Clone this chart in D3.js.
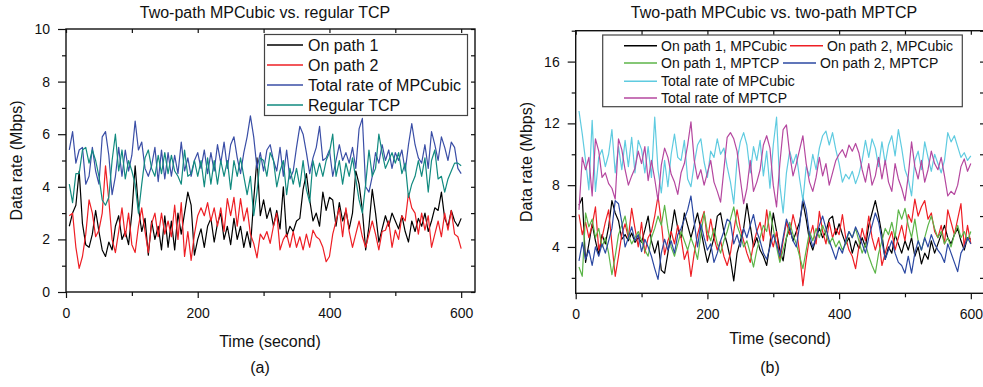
<!DOCTYPE html>
<html>
<head>
<meta charset="utf-8">
<script src="https://cdn.jsdelivr.net/npm/d3@7"></script>
<style>
  body { margin: 0; background: #fff; }
  svg { font-family: Arial, "Liberation Sans", sans-serif; }
</style>
</head>
<body>
<div id="chart"></div>
<script>
// sample times (seconds), one sample every 5 s
const times = d3.range(5, 601, 5)

// ---- panel (a): two-path MPCubic vs. regular TCP ----
const aPath1 = [
  2.5, 3.0, 3.3, 4.6, 2.6, 1.8, 1.7, 2.2, 3.1, 2.3,
  1.6, 1.35, 1.9, 1.6, 2.5, 2.9, 2.0, 2.3, 1.8, 3.0,
  4.8, 3.2, 2.3, 2.8, 1.4, 2.7, 2.0, 2.5, 1.6, 2.9,
  1.7, 2.7, 1.6, 3.0, 2.2, 3.0, 3.8, 3.3, 1.4, 2.0,
  2.4, 1.7, 2.5, 2.8, 1.9, 2.6, 3.0, 2.0, 2.5, 1.8,
  2.8, 2.0, 2.5, 1.7, 2.3, 1.7, 3.5, 5.1, 2.9, 3.5,
  2.8, 3.2, 2.5, 3.1, 2.4, 4.0, 2.1, 2.5, 2.3, 2.7,
  2.8, 3.9, 4.5, 3.5, 2.7, 3.0, 2.5, 3.8, 3.1, 3.6,
  3.5, 2.5, 3.4, 2.7, 3.1, 2.4, 3.0, 4.6, 4.1, 3.1,
  1.6, 2.5, 3.9, 3.0, 1.9, 2.4, 2.9, 2.5, 3.0, 2.7,
  2.4, 2.9, 2.3, 1.9, 2.7, 2.3, 2.8, 2.5, 3.0, 2.3,
  2.7, 3.2, 3.1, 3.8, 2.8, 2.5, 3.1, 2.7, 2.5, 2.8
]
const aPath2 = [
  2.9, 3.0, 1.7, 0.9, 1.35, 2.2, 3.5, 3.0, 2.1, 2.35,
  3.0, 4.8, 3.5, 2.0, 1.5, 2.3, 3.2, 2.1, 3.0, 1.8,
  1.5, 2.5, 3.2, 2.3, 1.5, 2.6, 3.0, 2.1, 3.0, 2.2,
  2.7, 2.1, 3.3, 2.0, 3.4, 1.35, 2.3, 1.2, 2.2, 2.9,
  3.2, 2.9, 3.4, 2.7, 3.2, 2.5, 3.2, 2.3, 3.55, 2.9,
  3.6, 2.5, 3.55, 2.7, 3.2, 2.2, 1.85, 1.3, 2.2, 2.0,
  2.3, 1.85, 2.5, 3.0, 1.6, 2.0, 2.2, 1.7, 2.3, 1.7,
  2.1, 1.6, 2.2, 1.7, 2.35, 2.1, 2.0, 1.7, 1.15, 1.35,
  2.2, 2.7, 3.2, 2.1, 3.2, 2.3, 1.7, 2.2, 2.7, 2.1,
  1.7, 2.2, 2.7, 2.2, 1.6, 2.3, 2.35, 2.7, 1.7, 2.35,
  2.0, 2.9, 2.7, 3.75, 3.2, 3.0, 2.2, 3.0, 2.35, 2.9,
  1.7, 2.2, 2.7, 2.1, 3.0, 2.35, 3.1, 2.2, 2.1, 1.65
]
const aTotal = [
  5.4, 6.1, 4.9, 5.4, 5.5, 4.1, 4.4, 5.5, 4.6, 4.1,
  5.9, 6.1, 5.2, 3.7, 4.4, 5.5, 4.4, 5.4, 4.6, 5.2,
  6.5, 5.4, 5.7, 4.7, 4.4, 4.8, 5.5, 4.2, 5.4, 4.3,
  5.3, 4.4, 5.2, 4.5, 5.7, 4.6, 5.1, 4.4, 5.0, 5.3,
  4.7, 5.4, 4.5, 5.3, 4.6, 5.6, 4.9, 5.7, 4.7, 5.6,
  5.9, 5.1, 4.5, 5.3, 5.9, 6.7, 5.9, 4.7, 5.3, 4.6,
  5.4, 5.6, 5.0, 4.6, 5.5, 4.4, 5.4, 4.3, 4.6, 5.5,
  6.3, 6.0, 5.3, 4.5, 5.1, 5.5, 6.3, 5.0, 5.1, 5.4,
  4.4, 5.0, 5.6, 5.0, 5.3, 4.9, 5.5, 4.7, 6.2, 6.6,
  4.0, 3.8, 4.4, 5.3, 4.9, 5.6, 5.0, 5.4, 4.7, 5.3,
  5.0, 5.4, 4.6, 5.6, 6.4, 5.6, 5.1, 4.9, 5.6, 4.7,
  6.1, 5.6, 5.0, 5.9, 5.5, 5.0, 5.7, 5.5, 4.7, 4.5
]
const aTcp = [
  4.1, 3.4, 4.5, 4.5, 5.4, 5.5, 4.9, 5.4, 5.0, 4.4,
  3.5, 3.3, 3.6, 5.0, 6.0, 4.6, 5.4, 4.3, 5.0, 4.6,
  4.1, 3.0, 4.1, 5.1, 5.4, 4.7, 4.4, 5.2, 4.5, 5.3,
  4.5, 5.2, 4.6, 4.4, 4.1, 5.4, 4.4, 4.5, 5.0, 4.4,
  5.0, 4.0, 5.1, 4.1, 5.0, 4.1, 5.0, 4.4, 5.0, 3.9,
  5.0, 4.4, 5.1, 4.4, 3.7, 4.4, 2.9, 3.8, 5.1, 5.0,
  4.4, 5.3, 5.0, 4.0, 4.6, 5.0, 3.7, 4.7, 4.1, 4.7,
  4.0, 5.0, 3.9, 3.4, 5.0, 4.4, 4.9, 4.4, 5.0, 5.3,
  6.0, 4.4, 5.0, 4.1, 4.9, 4.4, 5.1, 4.3, 3.5, 3.0,
  4.1, 5.4, 4.4, 4.7, 6.0, 5.3, 4.7, 5.0, 5.3, 4.9,
  5.3, 4.5, 4.9, 3.6, 4.1, 4.4, 5.0, 4.4, 5.1, 3.8,
  5.0, 5.4, 4.3, 4.4, 3.8, 4.3, 4.6, 4.9, 4.9, 4.8
]

// ---- panel (b): two-path MPCubic vs. two-path MPTCP ----
const bPath1Cubic = [
  6.7, 7.2, 3.0, 4.2, 5.5, 4.4, 3.5, 4.8, 4.2, 5.3,
  7.0, 6.2, 5.7, 4.5, 4.8, 4.4, 4.9, 4.3, 4.6, 4.3,
  5.1, 6.0, 4.4, 3.6, 4.4, 2.5, 2.3, 3.6, 5.0, 6.4,
  5.2, 4.6, 6.2, 5.4, 4.6, 5.4, 6.2, 5.1, 4.0, 3.0,
  3.8, 4.6, 6.0, 6.2, 5.0, 4.2, 3.2, 1.8, 3.6, 4.4,
  5.2, 6.8, 5.4, 4.0, 4.6, 3.8, 3.4, 2.8, 4.2, 6.2,
  5.0, 3.8, 3.1, 4.6, 5.2, 4.4, 5.0, 5.6, 6.9, 5.8,
  4.4, 3.8, 4.6, 5.2, 4.6, 5.0, 5.8, 6.0, 4.8, 5.5,
  4.8, 4.2, 4.6, 3.6, 4.4, 3.9, 4.6, 4.0, 5.4, 6.2,
  7.0, 6.0, 4.8, 3.2, 4.0, 3.6, 4.8, 4.2, 3.6, 4.4,
  3.8, 4.6, 3.4, 4.0, 2.9, 3.6, 3.2, 4.4, 3.6, 4.2,
  4.8, 5.4, 4.6, 4.2, 4.8, 5.2, 4.4, 3.8, 4.6, 4.5
]
const bPath2Cubic = [
  6.1, 4.8, 5.6, 4.6, 5.4, 6.6, 3.8, 4.6, 5.6, 6.4,
  4.2, 2.1, 3.4, 4.8, 5.5, 4.6, 6.5, 5.2, 4.0, 5.6,
  3.6, 4.6, 5.0, 6.0, 7.3, 5.6, 3.5, 4.4, 5.0, 4.2,
  5.4, 4.6, 3.2, 3.8, 2.1, 3.6, 4.8, 5.6, 6.3, 4.4,
  5.8, 4.6, 3.8, 4.4, 3.4, 2.8, 3.6, 5.0, 6.4, 5.2,
  4.4, 3.6, 3.0, 4.2, 5.0, 5.6, 4.4, 6.4, 4.8, 4.0,
  5.0, 3.1, 4.4, 5.6, 4.8, 6.1, 5.2, 3.6, 1.5, 3.2,
  4.6, 5.4, 4.2, 6.3, 5.0, 4.2, 5.6, 4.6, 5.2, 4.8,
  6.1, 4.6, 3.8, 3.4, 2.6, 4.0, 5.2, 4.4, 6.0, 4.6,
  3.8, 4.6, 2.8, 3.6, 4.4, 5.0, 3.8, 4.6, 5.4, 4.4,
  6.1, 5.6, 7.1, 6.0, 6.6, 7.0, 5.8, 6.2, 5.0, 4.6,
  5.4, 4.2, 6.4, 5.6, 4.8, 5.8, 6.8, 4.0, 5.4, 4.2
]
const bPath1Mptcp = [
  2.7, 2.1, 6.2, 5.3, 5.8, 4.6, 5.2, 4.0, 4.6, 3.6,
  2.2, 3.4, 4.8, 5.4, 6.0, 4.8, 4.2, 4.6, 5.0, 4.4,
  3.8, 3.4, 4.6, 5.2, 6.0, 5.4, 6.7, 5.2, 4.0, 3.4,
  4.2, 5.0, 4.4, 3.8, 4.6, 4.0, 3.2, 4.8, 6.2, 5.0,
  4.4, 5.2, 4.2, 3.6, 4.4, 5.0, 5.8, 6.6, 5.4, 4.8,
  4.0, 4.4, 3.6, 2.7, 3.8, 4.6, 5.4, 5.0, 6.3, 5.2,
  4.0, 3.0, 3.8, 4.6, 5.6, 4.8, 4.2, 3.4, 2.6, 3.8,
  5.0, 4.4, 5.2, 4.6, 5.4, 4.8, 4.2, 4.6, 4.0, 4.4,
  3.8, 4.2, 5.0, 4.6, 5.2, 4.4, 3.6, 4.2, 3.4, 2.8,
  2.3, 3.6, 4.4, 5.2, 4.8, 5.6, 4.6, 6.4, 5.8, 6.5,
  5.4, 4.6, 5.8, 4.4, 3.8, 4.6, 5.4, 6.0, 5.2, 4.6,
  5.0, 4.2, 4.6, 4.0, 4.8, 5.4, 4.6, 5.0, 4.4, 5.0
]
const bPath2Mptcp = [
  3.1, 4.3, 3.2, 3.8, 2.8, 4.0, 3.4, 4.2, 3.6, 4.4,
  5.2, 7.0, 6.8, 5.6, 4.0, 4.6, 5.3, 4.4, 4.8, 3.7,
  4.5, 4.0, 3.4, 2.6, 1.9, 3.6, 4.5, 3.8, 4.4, 3.6,
  4.8, 5.2, 5.8, 6.4, 7.3, 5.6, 4.0, 5.5, 4.6, 3.8,
  4.2, 3.0, 3.6, 4.4, 5.0, 5.8, 5.6, 4.2, 4.8, 4.0,
  5.2, 4.6, 5.4, 6.1, 5.0, 4.4, 3.6, 3.2, 4.0, 4.8,
  4.2, 3.4, 4.6, 5.8, 5.2, 4.4, 4.0, 5.4, 7.2, 6.4,
  4.8, 4.0, 4.6, 5.4, 6.0, 5.2, 4.4, 3.8, 3.2, 4.0,
  3.6, 4.4, 5.0, 4.6, 5.3, 4.8, 4.2, 3.6, 4.6, 5.4,
  6.2, 5.6, 4.4, 3.2, 3.8, 4.4, 3.6, 3.0, 2.8, 2.3,
  3.4, 2.3, 3.6, 4.4, 3.8, 4.6, 4.0, 4.8, 4.2, 3.8,
  3.5, 3.0, 4.2, 3.6, 3.0, 2.4, 3.6, 4.0, 4.6, 4.2
]
const bTotalCubic = [
  12.8, 11.3, 9.6, 7.7, 12.2, 7.6, 9.8, 10.3, 9.2, 10.0,
  11.6, 8.8, 10.5, 9.0, 10.9, 9.2, 11.1, 8.8, 10.9, 10.3,
  8.8, 10.5, 8.5, 12.4, 9.0, 7.5, 9.6, 7.9, 10.0, 11.3,
  9.8, 9.6, 10.9, 8.4, 7.9, 9.4, 10.6, 11.0, 9.5, 8.5,
  10.2, 9.8, 11.0, 10.0, 10.4, 9.2, 8.2, 6.8, 9.6, 10.8,
  11.4, 10.6, 8.8, 10.5, 9.6, 10.9, 8.6, 10.2, 7.8, 10.6,
  12.4, 8.0, 6.2, 8.8, 10.2, 9.4, 10.0, 8.4, 7.0, 9.2,
  8.6, 10.0, 9.0, 10.4, 11.2, 11.5, 10.6, 11.4, 10.3, 9.4,
  8.2, 8.7, 8.4, 8.9, 8.1, 8.7, 9.6, 10.9, 9.8, 11.0,
  10.4, 9.2, 10.8, 9.4, 10.6, 11.2, 9.9, 11.6, 10.4, 9.0,
  8.4, 7.3, 9.6, 10.2, 9.0, 10.8, 9.8, 8.9, 10.0, 9.4,
  8.8, 9.6, 11.4, 10.8, 11.2, 10.5, 9.8, 10.1, 9.6, 9.9
]
const bTotalMptcp = [
  6.4, 9.8, 9.0, 9.8, 7.3, 11.0, 10.2, 8.5, 8.8, 8.1,
  7.8, 7.1, 11.0, 10.3, 9.0, 8.0, 8.6, 9.1, 10.2, 9.4,
  10.5, 8.3, 9.6, 8.4, 7.0, 9.3, 10.4, 9.8, 8.7, 8.2,
  7.4, 8.8, 9.4, 10.6, 12.1, 9.6, 8.4, 9.0, 8.0, 8.8,
  9.6, 8.2, 7.6, 6.9, 9.0, 11.1, 11.4, 11.0, 10.2, 8.4,
  6.8, 7.8, 9.6, 7.6, 8.2, 9.0, 10.6, 11.2, 10.4, 8.0,
  6.6, 9.4, 11.6, 11.9, 10.0, 8.6, 9.4, 10.3, 11.2, 9.4,
  8.2, 7.6, 8.5, 9.8, 8.6, 9.4, 8.0, 8.8, 9.6, 10.0,
  10.3, 9.8, 10.6, 10.2, 10.7, 10.1, 9.0, 8.2, 9.4, 8.0,
  8.6, 9.8, 8.4, 9.6, 8.2, 7.6, 9.4, 8.4, 7.8, 7.0,
  8.6, 10.8, 9.2, 8.4, 9.6, 8.2, 9.0, 10.2, 9.4, 9.0,
  9.8, 8.6, 7.3, 7.6, 7.4, 8.0, 9.2, 9.7, 8.9, 9.4
]

// axis ticks
const xTicks = [0, 200, 400, 600]
const xMinor = [100, 300, 500]
const aYTicks = [0, 2, 4, 6, 8, 10]
const aYMinor = [1, 3, 5, 7, 9]
const bYTicks = [4, 8, 12, 16]
const bYMinor = [2, 6, 10, 14, 18]

const svg = d3.select('#chart')
  .append('svg')
  .attr('width', 983)
  .attr('height', 387)

function drawPanel(p) {
  const x = d3.scaleLinear().domain(p.xDomain).range([p.left, p.right])
  const y = d3.scaleLinear().domain(p.yDomain).range([p.bottom, p.top])
  const g = svg.append('g')

  const clipId = 'clip-' + p.id
  svg.append('clipPath').attr('id', clipId)
    .append('rect')
    .attr('x', p.left).attr('y', p.top)
    .attr('width', p.right - p.left).attr('height', p.bottom - p.top)

  const line = d3.line()
    .x((d, i) => x(times[i]))
    .y(d => y(d))

  const lines = g.append('g').attr('clip-path', `url(#${clipId})`)
  p.series.forEach(s => {
    lines.append('path')
      .datum(s.values)
      .attr('d', line)
      .attr('fill', 'none')
      .attr('stroke', s.color)
      .attr('stroke-width', 1.2)
      .attr('stroke-linejoin', 'round')
  })

  // axes
  const axisBottom = g.append('g').attr('transform', `translate(0,${p.bottom})`)
    .call(d3.axisBottom(x).tickValues(xTicks).tickSizeInner(6).tickSizeOuter(0).tickPadding(10))
  g.append('g').attr('transform', `translate(0,${p.bottom})`)
    .call(d3.axisBottom(x).tickValues(xMinor).tickSizeInner(4).tickSizeOuter(0).tickFormat(''))
  g.append('g').attr('transform', `translate(0,${p.top})`)
    .call(d3.axisTop(x).tickValues(xTicks.concat(xMinor)).tickSizeInner(-4).tickSizeOuter(0).tickFormat(''))

  g.append('g').attr('transform', `translate(${p.left},0)`)
    .call(d3.axisLeft(y).tickValues(p.yTicks).tickSizeInner(8).tickSizeOuter(0).tickPadding(8))
  g.append('g').attr('transform', `translate(${p.left},0)`)
    .call(d3.axisLeft(y).tickValues(p.yMinor).tickSizeInner(4).tickSizeOuter(0).tickFormat(''))
  g.append('g').attr('transform', `translate(${p.right},0)`)
    .call(d3.axisRight(y).tickValues(p.yTicks.concat(p.yMinor)).tickSizeInner(-4).tickSizeOuter(0).tickFormat(''))

  g.selectAll('.domain').remove()
  g.selectAll('.tick line').attr('stroke', '#111').attr('stroke-width', 1.2)
  g.selectAll('.tick text').attr('font-size', 14).attr('fill', '#111').attr('font-family', 'Arial, "Liberation Sans", sans-serif')

  g.append('rect')
    .attr('x', p.left).attr('y', p.top)
    .attr('width', p.right - p.left).attr('height', p.bottom - p.top)
    .attr('fill', 'none')
    .attr('stroke', '#111')
    .attr('stroke-width', 1.4)

  // titles
  g.append('text').attr('x', p.titleX).attr('y', 18)
    .attr('text-anchor', 'middle').attr('font-size', 16).attr('fill', '#111')
    .text(p.title)
  g.append('text').attr('x', p.xLabelX).attr('y', p.xLabelY)
    .attr('text-anchor', 'middle').attr('font-size', 16).attr('fill', '#111')
    .text('Time (second)')
  g.append('text').attr('x', p.xLabelX - 10).attr('y', 373)
    .attr('text-anchor', 'middle').attr('font-size', 16).attr('fill', '#111')
    .text(p.tag)
  g.append('text')
    .attr('transform', `translate(${p.yLabelX},${(p.top + p.bottom) / 2}) rotate(-90)`)
    .attr('text-anchor', 'middle').attr('font-size', 16).attr('fill', '#111')
    .text('Data rate (Mbps)')

  // legend
  const lg = p.legend
  g.append('rect')
    .attr('x', lg.x).attr('y', lg.y).attr('width', lg.w).attr('height', lg.h)
    .attr('fill', '#fff').attr('stroke', '#444').attr('stroke-width', 1.2)
  lg.items.forEach(it => {
    g.append('line')
      .attr('x1', it.x).attr('x2', it.x + lg.lineLen)
      .attr('y1', it.y).attr('y2', it.y)
      .attr('stroke', it.color).attr('stroke-width', 1.5)
    g.append('text')
      .attr('x', it.x + lg.lineLen + lg.gap).attr('y', it.y)
      .attr('dy', '0.36em')
      .attr('font-size', lg.fontSize).attr('fill', '#111')
      .text(it.label)
  })
}

drawPanel({
  id: 'a',
  left: 66, right: 475, top: 29, bottom: 292,
  xDomain: [0, 621], yDomain: [0, 10],
  yTicks: aYTicks, yMinor: aYMinor,
  title: 'Two-path MPCubic vs. regular TCP', titleX: 265,
  xLabelX: 270, xLabelY: 347, yLabelX: 22, tag: '(a)',
  series: [
    { values: aPath1, color: '#000000' },
    { values: aPath2, color: '#ee1f25' },
    { values: aTotal, color: '#3a4ea6' },
    { values: aTcp, color: '#118a7f' }
  ],
  legend: {
    x: 264.5, y: 34.5, w: 203, h: 81, lineLen: 36, gap: 5, fontSize: 16,
    items: [
      { x: 267, y: 45, color: '#000000', label: 'On path 1' },
      { x: 267, y: 65, color: '#ee1f25', label: 'On path 2' },
      { x: 267, y: 85, color: '#3a4ea6', label: 'Total rate of MPCubic' },
      { x: 267, y: 105, color: '#118a7f', label: 'Regular TCP' }
    ]
  }
})

drawPanel({
  id: 'b',
  left: 575.7, right: 984, top: 30.7, bottom: 293.3,
  xDomain: [0, 620], yDomain: [1, 18],
  yTicks: bYTicks, yMinor: bYMinor,
  title: 'Two-path MPCubic vs. two-path MPTCP', titleX: 774,
  xLabelX: 780, xLabelY: 344, yLabelX: 532, tag: '(b)',
  series: [
    { values: bPath1Cubic, color: '#000000' },
    { values: bPath2Cubic, color: '#ee1f25' },
    { values: bPath1Mptcp, color: '#5cb548' },
    { values: bPath2Mptcp, color: '#2b48a2' },
    { values: bTotalCubic, color: '#5fcbe0' },
    { values: bTotalMptcp, color: '#b5479f' }
  ],
  legend: {
    x: 602.7, y: 35, w: 359.6, h: 71.7, lineLen: 33, gap: 4, fontSize: 14,
    items: [
      { x: 624, y: 45.7, color: '#000000', label: 'On path 1, MPCubic' },
      { x: 790, y: 45.7, color: '#ee1f25', label: 'On path 2, MPCubic' },
      { x: 624, y: 63, color: '#5cb548', label: 'On path 1, MPTCP' },
      { x: 783, y: 63, color: '#2b48a2', label: 'On path 2, MPTCP' },
      { x: 624, y: 81.3, color: '#5fcbe0', label: 'Total rate of MPCubic' },
      { x: 624, y: 98, color: '#b5479f', label: 'Total rate of MPTCP' }
    ]
  }
})
</script>
</body>
</html>
